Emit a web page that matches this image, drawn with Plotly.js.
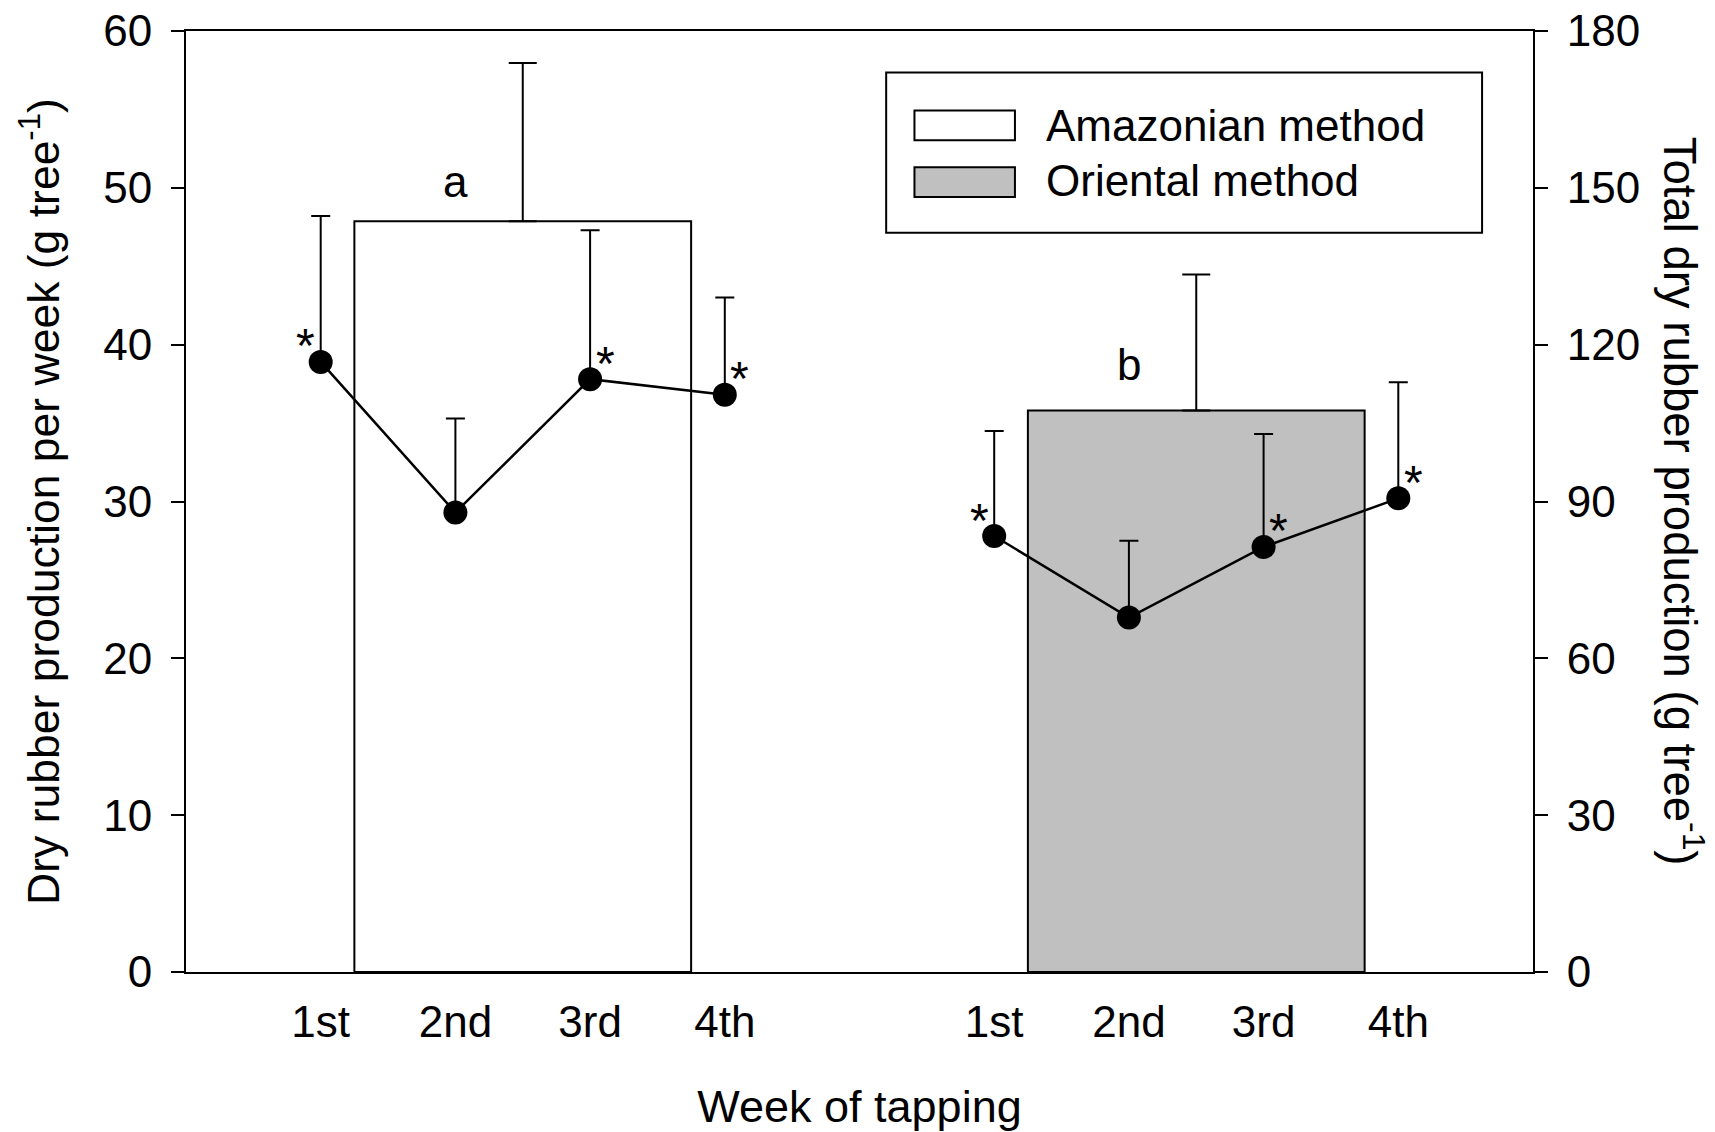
<!DOCTYPE html>
<html>
<head>
<meta charset="utf-8">
<script src="https://cdn.plot.ly/plotly-3.0.1.min.js"></script>
<style>html,body{margin:0;padding:0;background:#fff;}#chart{width:1715px;height:1132px;}</style>
</head>
<body>
<div id="chart"></div>
<script>
// ---- data ----
const weeks = ["1st", "2nd", "3rd", "4th"];
const methods = ["Amazonian method", "Oriental method"];
const amazonianWeekly = [38.9, 29.3, 37.8, 36.8];
const amazonianWeeklyErr = [9.3, 6.0, 9.5, 6.2];
const orientalWeekly = [27.8, 22.6, 27.1, 30.2];
const orientalWeeklyErr = [6.7, 4.9, 7.2, 7.4];
const amazonianSig = ["*", "", "*", "*"];
const orientalSig = ["*", "", "*", "*"];
const totalProduction = [143.6, 107.4];
const totalProductionErr = [30.3, 26.0];
const groupLetters = ["a", "b"];

// ---- layout helpers (positions / styles) ----
const FONT = "Liberation Sans, Arial, Helvetica, sans-serif";
const groupStart = [0, 5];           // category slot of first week in each group
const barFill = ["#ffffff", "#c0c0c0"];
const weeklySeries = [amazonianWeekly, orientalWeekly];
const weeklyErr = [amazonianWeeklyErr, orientalWeeklyErr];
const weeklySig = [amazonianSig, orientalSig];
const sigSide = [-1, 1, 1, 1];       // asterisk left/right of marker per week
const letterShift = [40, 46];        // px above bar top

const slots = g => weeks.map((w, i) => groupStart[g] + i);
const barCenters = groupStart.map(s => s + (weeks.length - 1) / 2);

const traces = [];
traces.push({
  type: "bar",
  x: barCenters,
  y: totalProduction,
  width: 2.5,
  marker: {color: barFill, line: {color: "#000", width: 2}},
  error_y: {type: "data", symmetric: false, array: totalProductionErr,
            arrayminus: totalProductionErr.map(() => 0), color: "#000", thickness: 2, width: 14},
  xaxis: "x", yaxis: "y",
  showlegend: false, hoverinfo: "skip"
});
methods.forEach((m, g) => {
  traces.push({
    type: "scatter", mode: "lines+markers",
    x: slots(g), y: weeklySeries[g],
    line: {color: "#000", width: 2.5},
    marker: {color: "#000", size: 24},
    error_y: {type: "data", symmetric: false, array: weeklyErr[g],
              arrayminus: weeklyErr[g].map(() => 0), color: "#000", thickness: 2, width: 9.5},
    xaxis: "x", yaxis: "y2", showlegend: false, name: m, hoverinfo: "skip"
  });
});

const annotations = [];
methods.forEach((m, g) => {
  weeklySig[g].forEach((s, i) => {
    if (!s) return;
    annotations.push({
      x: groupStart[g] + i, y: weeklySeries[g][i], xref: "x", yref: "y2",
      text: s, showarrow: false, xshift: 15 * sigSide[i], yshift: 16,
      font: {family: FONT, size: 48, color: "#000"}
    });
  });
  annotations.push({
    x: barCenters[g] - 0.5, y: totalProduction[g], xref: "x", yref: "y",
    text: groupLetters[g], showarrow: false, yshift: letterShift[g],
    font: {family: FONT, size: 44, color: "#000"}
  });
});
// right-hand axis title, reading top to bottom
annotations.push({
  xref: "paper", yref: "paper", x: 1.112, y: 0.5,
  xanchor: "center", yanchor: "middle",
  text: "Total dry rubber production (g tree<sup>-1</sup>)",
  textangle: 90, showarrow: false,
  font: {family: FONT, size: 45.5, color: "#000"}
});

// custom legend
const shapes = [{
  type: "rect", xref: "paper", yref: "paper",
  x0: 0.5198, x1: 0.9622, y0: 0.7855, y1: 0.956,
  line: {color: "#000", width: 2}, fillcolor: "rgba(0,0,0,0)"
}];
const swatchRows = [[0.884, 0.9154], [0.8237, 0.8552]];
const textRows = [0.8991, 0.8414];
methods.forEach((m, g) => {
  shapes.push({
    type: "rect", xref: "paper", yref: "paper",
    x0: 0.5408, x1: 0.6154, y0: swatchRows[g][0], y1: swatchRows[g][1],
    line: {color: "#000", width: 2}, fillcolor: barFill[g]
  });
  annotations.push({
    xref: "paper", yref: "paper", x: 0.6372, y: textRows[g],
    xanchor: "left", yanchor: "middle", text: m, showarrow: false,
    font: {family: FONT, size: 44, color: "#000"}
  });
});

const tickVals = [].concat(...methods.map((m, g) => slots(g)));
const tickText = [].concat(...methods.map(() => weeks));

const layout = {
  width: 1715, height: 1132,
  margin: {l: 186, r: 182, t: 31, b: 160},
  paper_bgcolor: "#fff", plot_bgcolor: "#fff",
  font: {family: FONT, color: "#000", size: 44},
  showlegend: false,
  bargap: 0,
  xaxis: {
    range: [-1, 9], tickvals: tickVals, ticktext: tickText,
    ticks: "", showline: true, linecolor: "#000", linewidth: 2, mirror: true,
    showgrid: false, zeroline: false, ticklabelstandoff: 10,
    tickfont: {family: FONT, size: 44, color: "#000"},
    title: {text: "Week of tapping", font: {family: FONT, size: 45, color: "#000"}, standoff: 46}
  },
  yaxis: {
    range: [0, 180], dtick: 30, side: "right",
    ticks: "outside", ticklen: 13, tickwidth: 2, tickcolor: "#000",
    showline: true, linecolor: "#000", linewidth: 2,
    showgrid: false, zeroline: false, ticklabelstandoff: 10,
    tickfont: {family: FONT, size: 44, color: "#000"}
  },
  yaxis2: {
    range: [0, 60], dtick: 10, side: "left", overlaying: "y",
    ticks: "outside", ticklen: 13, tickwidth: 2, tickcolor: "#000",
    showline: true, linecolor: "#000", linewidth: 2,
    showgrid: false, zeroline: false, ticklabelstandoff: 10,
    tickfont: {family: FONT, size: 44, color: "#000"},
    title: {text: "Dry rubber production per week (g tree<sup>-1</sup>)",
            font: {family: FONT, size: 44.5, color: "#000"}, standoff: 30}
  },
  shapes: shapes,
  annotations: annotations
};

Plotly.newPlot("chart", traces, layout, {staticPlot: true, displayModeBar: false});
</script>
</body>
</html>
